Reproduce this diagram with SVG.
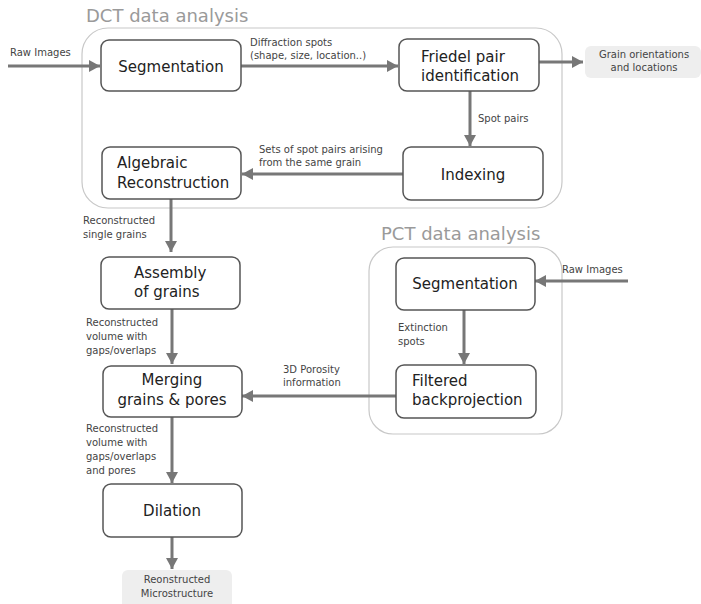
<svg xmlns="http://www.w3.org/2000/svg" width="701" height="604" viewBox="0 0 701 604">
<style>
.box{fill:#fff;stroke:#555;stroke-width:1.5}
.grp{fill:none;stroke:#c8c8c8;stroke-width:1.2}
.out{fill:#eeeeee;stroke:none}
.t{font-family:"DejaVu Sans",sans-serif;font-size:15px;fill:#222}
.s{font-family:"DejaVu Sans",sans-serif;font-size:10px;fill:#444}
.ti{font-family:"DejaVu Sans",sans-serif;font-size:18px;fill:#9a9a9a}
.c{fill:none;stroke:#777;stroke-width:3;marker-end:url(#ah)}
</style>
<defs>
<marker id="ah" markerUnits="userSpaceOnUse" markerWidth="12" markerHeight="12" refX="11" refY="6" orient="auto">
<path d="M0,0 L11,6 L0,12 Z" fill="#777"/>
</marker>
</defs>
<rect width="701" height="604" fill="#fff"/>

<g id="dct-group">
<rect class="grp" x="82" y="28" width="480" height="180" rx="26"/>
<text class="ti" x="86" y="22">DCT data analysis</text>
</g>
<g id="pct-group">
<rect class="grp" x="369" y="247" width="193" height="187" rx="24"/>
<text class="ti" x="381" y="240">PCT data analysis</text>
</g>

<g id="connectors">
<path class="c" d="M8,66 L100,66"/>
<path class="c" d="M241,66 L398,66"/>
<path class="c" d="M539,62 L583,62"/>
<path class="c" d="M470,91 L470,146"/>
<path class="c" d="M403,174 L242,174"/>
<path class="c" d="M171,199 L171,252"/>
<path class="c" d="M172,309 L172,364"/>
<path class="c" d="M628,281 L535,281"/>
<path class="c" d="M464,310 L464,364"/>
<path class="c" d="M396,396 L242,396"/>
<path class="c" d="M172,417 L172,483"/>
<path class="c" d="M172,537 L172,569"/>
<text class="s" x="10" y="56">Raw Images</text>
<text class="s" x="250" y="46">Diffraction spots</text>
<text class="s" x="250" y="59">(shape, size, location..)</text>
<text class="s" x="478" y="122">Spot pairs</text>
<text class="s" x="259" y="153">Sets of spot pairs arising</text>
<text class="s" x="259" y="166">from the same grain</text>
<text class="s" x="83" y="224">Reconstructed</text>
<text class="s" x="83" y="238">single grains</text>
<text class="s" x="86" y="326">Reconstructed</text>
<text class="s" x="86" y="340">volume with</text>
<text class="s" x="86" y="354">gaps/overlaps</text>
<text class="s" x="562" y="273">Raw Images</text>
<text class="s" x="398" y="331">Extinction</text>
<text class="s" x="398" y="345">spots</text>
<text class="s" x="283" y="373">3D Porosity</text>
<text class="s" x="283" y="386">information</text>
<text class="s" x="86" y="432">Reconstructed</text>
<text class="s" x="86" y="446">volume with</text>
<text class="s" x="86" y="460">gaps/overlaps</text>
<text class="s" x="86" y="474">and pores</text>
</g>

<g id="segmentation">
<rect class="box" x="101" y="40" width="140" height="51" rx="8"/>
<text class="t" x="171" y="72" text-anchor="middle">Segmentation</text>
</g>
<g id="friedel">
<rect class="box" x="399" y="39" width="140" height="52" rx="8"/>
<text class="t" x="421" y="62">Friedel pair</text>
<text class="t" x="421" y="81">identification</text>
</g>
<g id="grain-orientations">
<rect class="out" x="585" y="46" width="116" height="32" rx="6"/>
<text class="s" x="644" y="58" text-anchor="middle">Grain orientations</text>
<text class="s" x="644" y="71" text-anchor="middle">and locations</text>
</g>
<g id="indexing">
<rect class="box" x="403" y="147" width="140" height="53" rx="8"/>
<text class="t" x="473" y="180" text-anchor="middle">Indexing</text>
</g>
<g id="algebraic">
<rect class="box" x="102" y="147" width="139" height="52" rx="8"/>
<text class="t" x="117" y="168">Algebraic</text>
<text class="t" x="117" y="188">Reconstruction</text>
</g>
<g id="assembly">
<rect class="box" x="101" y="257" width="139" height="52" rx="8"/>
<text class="t" x="134" y="278">Assembly</text>
<text class="t" x="134" y="297">of grains</text>
</g>
<g id="merging">
<rect class="box" x="103" y="366" width="139" height="51" rx="8"/>
<text class="t" x="172" y="385" text-anchor="middle">Merging</text>
<text class="t" x="172" y="405" text-anchor="middle">grains &amp; pores</text>
</g>
<g id="pct-segmentation">
<rect class="box" x="396" y="258" width="139" height="52" rx="8"/>
<text class="t" x="465" y="289" text-anchor="middle">Segmentation</text>
</g>
<g id="filtered">
<rect class="box" x="396" y="365" width="140" height="53" rx="8"/>
<text class="t" x="412" y="386">Filtered</text>
<text class="t" x="412" y="405">backprojection</text>
</g>
<g id="dilation">
<rect class="box" x="103" y="484" width="139" height="53" rx="8"/>
<text class="t" x="172" y="516" text-anchor="middle">Dilation</text>
</g>
<g id="microstructure">
<rect class="out" x="122" y="570" width="110" height="40" rx="6"/>
<text class="s" x="177" y="583" text-anchor="middle">Reonstructed</text>
<text class="s" x="177" y="597" text-anchor="middle">Microstructure</text>
</g>
</svg>
